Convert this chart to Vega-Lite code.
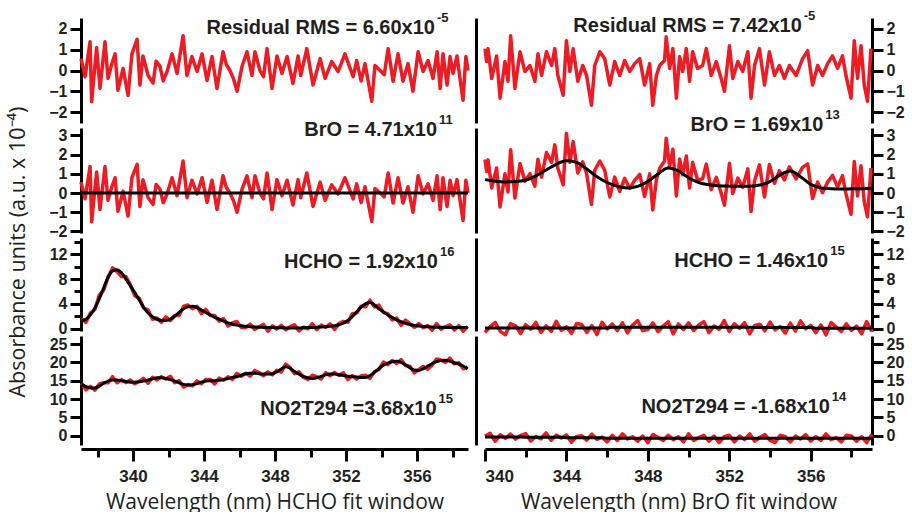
{
  "$schema": "https://vega.github.io/schema/vega-lite/v6.json",
  "background": "white",
  "padding": {"left": 8, "top": 10, "right": 2, "bottom": 0},
  "title": {"text": "Absorbance units (a.u. x 10⁻⁴)", "orient": "left", "anchor": "middle", "font": "Open Sans", "fontSize": 21.5, "fontWeight": "normal", "color": "#231f20", "offset": 19, "dx": 9},
  "spacing": 2,
  "config": {
    "view": {"stroke": null},
    "axis": {"domainColor": "black", "domainWidth": 3, "tickColor": "black", "tickWidth": 3, "labelColor": "#231f20", "labelFont": "Liberation Sans", "labelFontWeight": "bold", "labelFontSize": 16, "grid": false, "titleFont": "Open Sans", "titleFontWeight": "normal", "titleFontSize": 21, "titleColor": "#231f20", "labelPadding": 3}
  },
  "datasets": {
    "resL": [
      {"x":337.07,"r":0.57},{"x":337.3,"r":-0.3},{"x":337.58,"r":1.38},{"x":337.67,"r":-1.5},{"x":337.95,"r":1.1},{"x":338.14,"r":-0.86},{"x":338.42,"r":1.38},{"x":338.59,"r":-0.38},{"x":338.8,"r":0.3},{"x":338.99,"r":0.8},{"x":339.15,"r":-0.95},{"x":339.44,"r":0.1},{"x":339.72,"r":-1.2},{"x":339.94,"r":0.8},{"x":340.23,"r":1.5},{"x":340.39,"r":-0.7},{"x":340.56,"r":0.7},{"x":340.85,"r":-0.24},{"x":341.13,"r":-0.6},{"x":341.3,"r":0.45},{"x":341.52,"r":0.2},{"x":341.7,"r":-0.5},{"x":341.92,"r":-0.05},{"x":342.2,"r":0.8},{"x":342.48,"r":-0.14},{"x":342.82,"r":1.67},{"x":343.04,"r":-0.24},{"x":343.32,"r":0.67},{"x":343.61,"r":-0.05},{"x":343.89,"r":0.8},{"x":344.17,"r":-0.48},{"x":344.45,"r":0.67},{"x":344.73,"r":-0.86},{"x":345.07,"r":0.9},{"x":345.25,"r":0.3},{"x":345.46,"r":0.0},{"x":345.66,"r":-0.4},{"x":345.86,"r":-1.0},{"x":346.14,"r":0.19},{"x":346.42,"r":0.9},{"x":346.7,"r":-0.24},{"x":346.87,"r":0.9},{"x":347.15,"r":0.0},{"x":347.35,"r":-0.3},{"x":347.55,"r":1.05},{"x":347.83,"r":-0.86},{"x":348.11,"r":0.7},{"x":348.39,"r":-0.14},{"x":348.68,"r":0.67},{"x":349.01,"r":-0.62},{"x":349.3,"r":0.7},{"x":349.45,"r":-0.24},{"x":349.79,"r":1.05},{"x":350.14,"r":-0.7},{"x":350.54,"r":0.57},{"x":350.82,"r":-0.38},{"x":351.19,"r":0.43},{"x":351.55,"r":-0.05},{"x":351.94,"r":0.8},{"x":352.23,"r":0.1},{"x":352.4,"r":-0.3},{"x":352.6,"r":0.48},{"x":352.85,"r":-0.5},{"x":353.07,"r":0.33},{"x":353.45,"r":-1.48},{"x":353.63,"r":0.24},{"x":353.92,"r":0.0},{"x":354.15,"r":-0.2},{"x":354.37,"r":1.05},{"x":354.65,"r":-0.52},{"x":354.93,"r":0.8},{"x":355.21,"r":-0.52},{"x":355.49,"r":0.33},{"x":355.77,"r":-1.0},{"x":356.06,"r":0.9},{"x":356.34,"r":-0.05},{"x":356.62,"r":0.48},{"x":356.9,"r":-0.38},{"x":357.13,"r":0.9},{"x":357.3,"r":-0.86},{"x":357.46,"r":0.8},{"x":357.69,"r":-0.7},{"x":357.86,"r":0.67},{"x":358.03,"r":-0.14},{"x":358.25,"r":0.7},{"x":358.42,"r":-0.38},{"x":358.59,"r":-1.43},{"x":358.75,"r":0.67},{"x":358.87,"r":0.0}
    ],
    "zeroL": [{"x":337.07,"f":0},{"x":358.87,"f":0}],
    "resR": [
      {"x":340.0,"r":1.05,"b":1.75},{"x":340.08,"r":0.43,"b":1.12},{"x":340.15,"r":1.05,"b":1.73},{"x":340.33,"r":-0.38,"b":0.27},{"x":340.57,"r":0.7,"b":1.31},{"x":340.74,"r":-1.33,"b":-0.73},{"x":340.98,"r":0.43,"b":1.01},{"x":341.13,"r":-0.52,"b":0.06},{"x":341.26,"r":1.67,"b":2.26},{"x":341.47,"r":-0.86,"b":-0.26},{"x":341.72,"r":0.9,"b":1.54},{"x":341.96,"r":-0.05,"b":0.62},{"x":342.21,"r":0.24,"b":1.01},{"x":342.45,"r":-0.52,"b":0.36},{"x":342.6,"r":0.8,"b":1.76},{"x":342.78,"r":-0.24,"b":0.83},{"x":343.02,"r":0.9,"b":2.11},{"x":343.27,"r":0.24,"b":1.6},{"x":343.43,"r":1.05,"b":2.51},{"x":343.58,"r":-0.24,"b":1.29},{"x":343.84,"r":-1.19,"b":0.43},{"x":344.0,"r":1.43,"b":3.11},{"x":344.17,"r":-0.05,"b":1.6},{"x":344.33,"r":1.05,"b":2.68},{"x":344.56,"r":-0.52,"b":1.04},{"x":344.8,"r":0.24,"b":1.63},{"x":344.99,"r":-0.24,"b":1.02},{"x":345.23,"r":-1.67,"b":-0.6},{"x":345.39,"r":0.24,"b":1.18},{"x":345.64,"r":0.9,"b":1.67},{"x":345.88,"r":0.57,"b":1.19},{"x":346.13,"r":-0.7,"b":-0.2},{"x":346.37,"r":0.43,"b":0.83},{"x":346.62,"r":-0.24,"b":0.09},{"x":346.86,"r":0.48,"b":0.77},{"x":347.11,"r":-0.05,"b":0.24},{"x":347.35,"r":0.33,"b":0.66},{"x":347.6,"r":0.57,"b":0.97},{"x":347.84,"r":-0.7,"b":-0.18},{"x":348.09,"r":0.33,"b":1.0},{"x":348.24,"r":-1.67,"b":-0.88},{"x":348.42,"r":-0.24,"b":0.7},{"x":348.58,"r":0.24,"b":1.29},{"x":348.82,"r":0.48,"b":1.67},{"x":348.9,"r":1.62,"b":2.86},{"x":349.07,"r":0.1,"b":1.38},{"x":349.23,"r":1.05,"b":2.28},{"x":349.4,"r":-1.33,"b":-0.15},{"x":349.56,"r":0.67,"b":1.78},{"x":349.71,"r":-0.05,"b":0.95},{"x":349.89,"r":1.05,"b":1.93},{"x":350.05,"r":-0.52,"b":0.26},{"x":350.2,"r":0.9,"b":1.6},{"x":350.44,"r":0.1,"b":0.68},{"x":350.69,"r":0.24,"b":0.74},{"x":350.87,"r":1.05,"b":1.51},{"x":351.11,"r":-0.24,"b":0.18},{"x":351.36,"r":0.43,"b":0.82},{"x":351.6,"r":-0.38,"b":0.0},{"x":351.76,"r":-1.0,"b":-0.63},{"x":352.01,"r":1.19,"b":1.55},{"x":352.17,"r":-0.38,"b":-0.02},{"x":352.42,"r":0.43,"b":0.78},{"x":352.66,"r":-0.05,"b":0.3},{"x":352.91,"r":0.9,"b":1.26},{"x":353.07,"r":-1.33,"b":-0.96},{"x":353.24,"r":0.24,"b":0.63},{"x":353.48,"r":1.05,"b":1.47},{"x":353.73,"r":-0.7,"b":-0.2},{"x":353.97,"r":0.9,"b":1.49},{"x":354.22,"r":-0.24,"b":0.51},{"x":354.46,"r":0.24,"b":1.16},{"x":354.71,"r":-0.38,"b":0.69},{"x":354.95,"r":0.24,"b":1.37},{"x":355.28,"r":-0.24,"b":0.74},{"x":355.6,"r":0.57,"b":1.34},{"x":355.85,"r":0.95,"b":1.52},{"x":356.09,"r":-0.7,"b":-0.28},{"x":356.34,"r":0.24,"b":0.57},{"x":356.58,"r":-0.24,"b":0.02},{"x":356.83,"r":0.33,"b":0.57},{"x":357.07,"r":0.7,"b":0.92},{"x":357.32,"r":0.1,"b":0.31},{"x":357.56,"r":0.7,"b":0.91},{"x":357.73,"r":-0.24,"b":-0.03},{"x":357.98,"r":-1.33,"b":-1.11},{"x":358.14,"r":1.43,"b":1.65},{"x":358.3,"r":-0.38,"b":-0.15},{"x":358.47,"r":1.19,"b":1.42},{"x":358.63,"r":-0.7,"b":-0.46},{"x":358.79,"r":-1.48,"b":-1.24},{"x":358.96,"r":1.05,"b":1.3}
    ],
    "broRf": [
      {"x":340,"f":0.7},{"x":340.5,"f":0.62},{"x":341,"f":0.58},{"x":341.5,"f":0.6},{"x":342,"f":0.68},{"x":342.5,"f":0.9},{"x":343,"f":1.2},{"x":343.5,"f":1.5},{"x":344,"f":1.68},{"x":344.5,"f":1.6},{"x":345,"f":1.25},{"x":345.5,"f":0.85},{"x":346,"f":0.55},{"x":346.5,"f":0.35},{"x":347,"f":0.27},{"x":347.5,"f":0.35},{"x":348,"f":0.6},{"x":348.5,"f":1.0},{"x":349,"f":1.3},{"x":349.5,"f":1.15},{"x":350,"f":0.8},{"x":350.5,"f":0.55},{"x":351,"f":0.43},{"x":351.5,"f":0.38},{"x":352,"f":0.36},{"x":352.5,"f":0.35},{"x":353,"f":0.36},{"x":353.5,"f":0.42},{"x":354,"f":0.6},{"x":354.5,"f":0.95},{"x":355,"f":1.15},{"x":355.5,"f":0.85},{"x":356,"f":0.45},{"x":356.5,"f":0.27},{"x":357,"f":0.22},{"x":357.5,"f":0.21},{"x":358,"f":0.22},{"x":358.5,"f":0.23},{"x":359,"f":0.25}
    ],
    "L2": [
      {"x":337.1,"hm":1.6,"hf":1.2,"nm":14.3,"nf":14.0},{"x":337.35,"hm":1.0,"hf":1.5,"nm":12.5,"nf":13.4},{"x":337.6,"hm":2.5,"hf":2.2,"nm":13.45,"nf":13.0},{"x":337.85,"hm":3.1,"hf":3.3,"nm":12.4,"nf":13.0},{"x":338.1,"hm":5.4,"hf":4.8,"nm":14.1,"nf":13.5},{"x":338.35,"hm":6.2,"hf":6.6,"nm":14.45,"nf":14.3},{"x":338.6,"hm":8.4,"hf":8.3,"nm":14.45,"nf":14.9},{"x":338.85,"hm":9.8,"hf":9.3,"nm":16.1,"nf":15.2},{"x":339.1,"hm":9.2,"hf":9.5,"nm":14.45,"nf":15.2},{"x":339.35,"hm":8.4,"hf":9.0,"nm":15.3,"nf":15.0},
      {"x":339.6,"hm":8.4,"hf":8.0,"nm":14.5,"nf":14.8},{"x":339.85,"hm":7.1,"hf":6.9,"nm":15.2,"nf":14.6},{"x":340.1,"hm":5.3,"hf":5.8,"nm":14.15,"nf":14.6},{"x":340.35,"hm":4.9,"hf":4.6,"nm":14.85,"nf":14.7},{"x":340.6,"hm":3.3,"hf":3.4,"nm":15.65,"nf":14.9},{"x":340.85,"hm":3.0,"hf":2.5,"nm":14.3,"nf":15.2},{"x":341.1,"hm":1.5,"hf":1.9,"nm":15.95,"nf":15.5},{"x":341.35,"hm":1.7,"hf":1.5,"nm":15.2,"nf":15.8},{"x":341.6,"hm":1.0,"hf":1.3,"nm":16.1,"nf":15.8},{"x":341.85,"hm":1.9,"hf":1.3,"nm":15.45,"nf":15.6},
      {"x":342.1,"hm":1.3,"hf":1.5,"nm":16.2,"nf":15.3},{"x":342.35,"hm":2.1,"hf":2.0,"nm":14.45,"nf":14.9},{"x":342.6,"hm":2.1,"hf":2.6,"nm":15.0,"nf":14.4},{"x":342.85,"hm":3.6,"hf":3.2,"nm":13.25,"nf":14.0},{"x":343.1,"hm":3.8,"hf":3.5,"nm":13.95,"nf":13.8},{"x":343.35,"hm":3.2,"hf":3.6,"nm":13.6,"nf":13.9},{"x":343.6,"hm":3.6,"hf":3.4,"nm":14.95,"nf":14.2},{"x":343.85,"hm":2.4,"hf":3.0,"nm":14.15,"nf":14.6},{"x":344.1,"hm":3.1,"hf":2.6,"nm":15.35,"nf":14.9},{"x":344.35,"hm":2.1,"hf":2.2,"nm":15.3,"nf":15.0},
      {"x":344.6,"hm":2.1,"hf":1.8,"nm":14.1,"nf":15.0},{"x":344.85,"hm":1.2,"hf":1.5,"nm":15.7,"nf":15.1},{"x":345.1,"hm":1.6,"hf":1.2,"nm":15.15,"nf":15.3},{"x":345.35,"hm":0.4,"hf":0.9,"nm":16.05,"nf":15.6},{"x":345.6,"hm":0.9,"hf":0.7,"nm":15.3,"nf":15.9},{"x":345.85,"hm":1.15,"hf":0.55,"nm":17.0,"nf":16.1},{"x":346.1,"hm":0.15,"hf":0.45,"nm":16.2,"nf":16.5},{"x":346.35,"hm":0.15,"hf":0.35,"nm":17.05,"nf":16.9},{"x":346.6,"hm":0.7,"hf":0.3,"nm":16.25,"nf":17.0},{"x":346.85,"hm":-0.15,"hf":0.25,"nm":17.75,"nf":17.0},
      {"x":347.1,"hm":0.3,"hf":0.2,"nm":17.2,"nf":16.9},{"x":347.35,"hm":0.68,"hf":0.18,"nm":16.35,"nf":16.8},{"x":347.6,"hm":-0.45,"hf":0.15,"nm":17.4,"nf":16.8},{"x":347.85,"hm":0.45,"hf":0.15,"nm":16.6,"nf":16.9},{"x":348.1,"hm":-0.08,"hf":0.12,"nm":17.85,"nf":17.4},{"x":348.35,"hm":0.52,"hf":0.12,"nm":17.3,"nf":18.2},{"x":348.6,"hm":-0.2,"hf":0.1,"nm":19.55,"nf":18.8},{"x":348.85,"hm":0.3,"hf":0.1,"nm":18.55,"nf":18.4},{"x":349.1,"hm":0.6,"hf":0.1,"nm":16.9,"nf":17.5},{"x":349.35,"hm":-0.4,"hf":0.1,"nm":17.4,"nf":16.8},
      {"x":349.6,"hm":0.22,"hf":0.12,"nm":15.9,"nf":16.2},{"x":349.85,"hm":-0.05,"hf":0.15,"nm":15.35,"nf":15.8},{"x":350.1,"hm":0.78,"hf":0.18,"nm":16.5,"nf":15.6},{"x":350.35,"hm":-0.2,"hf":0.2,"nm":16.1,"nf":15.8},{"x":350.6,"hm":0.55,"hf":0.25,"nm":15.45,"nf":16.2},{"x":350.85,"hm":0.2,"hf":0.3,"nm":17.2,"nf":16.6},{"x":351.1,"hm":0.75,"hf":0.35,"nm":16.35,"nf":16.8},{"x":351.35,"hm":-0.15,"hf":0.45,"nm":17.25,"nf":16.8},{"x":351.6,"hm":0.8,"hf":0.6,"nm":16.45,"nf":16.6},{"x":351.85,"hm":1.15,"hf":0.85,"nm":17.15,"nf":16.4},
      {"x":352.1,"hm":1.0,"hf":1.3,"nm":15.3,"nf":16.2},{"x":352.35,"hm":2.4,"hf":1.9,"nm":16.4,"nf":16.1},{"x":352.6,"hm":2.5,"hf":2.7,"nm":15.4,"nf":16.0},{"x":352.85,"hm":3.6,"hf":3.5,"nm":16.35,"nf":15.9},{"x":353.1,"hm":3.5,"hf":4.0,"nm":16.5,"nf":15.9},{"x":353.35,"hm":4.6,"hf":4.2,"nm":15.65,"nf":16.4},{"x":353.6,"hm":3.5,"hf":3.8,"nm":17.45,"nf":17.3},{"x":353.85,"hm":3.8,"hf":3.2,"nm":18.0,"nf":18.3},{"x":354.1,"hm":2.6,"hf":2.7,"nm":20.1,"nf":19.2},{"x":354.35,"hm":2.4,"hf":2.2,"nm":19.35,"nf":19.8},
      {"x":354.6,"hm":1.4,"hf":1.8,"nm":20.5,"nf":20.2},{"x":354.85,"hm":1.7,"hf":1.4,"nm":19.7,"nf":20.3},{"x":355.1,"hm":0.5,"hf":1.1,"nm":20.75,"nf":20.0},{"x":355.35,"hm":1.35,"hf":0.85,"nm":19.15,"nf":19.3},{"x":355.6,"hm":0.75,"hf":0.65,"nm":18.95,"nf":18.5},{"x":355.85,"hm":0.2,"hf":0.5,"nm":17.15,"nf":17.9},{"x":356.1,"hm":0.8,"hf":0.4,"nm":18.1,"nf":17.8},{"x":356.35,"hm":0.12,"hf":0.32,"nm":18.9,"nf":18.3},{"x":356.6,"hm":0.47,"hf":0.27,"nm":18.1,"nf":19.0},{"x":356.85,"hm":-0.27,"hf":0.23,"nm":19.25,"nf":19.7},
      {"x":357.1,"hm":0.8,"hf":0.2,"nm":20.95,"nf":20.2},{"x":357.35,"hm":-0.1,"hf":0.2,"nm":20.65,"nf":20.5},{"x":357.6,"hm":0.28,"hf":0.18,"nm":20.0,"nf":20.6},{"x":357.85,"hm":0.58,"hf":0.18,"nm":21.2,"nf":20.3},{"x":358.1,"hm":-0.23,"hf":0.17,"nm":19.6,"nf":19.9},{"x":358.35,"hm":0.46,"hf":0.16,"nm":19.95,"nf":19.5},{"x":358.6,"hm":-0.45,"hf":0.15,"nm":18.25,"nf":19.0},{"x":358.85,"hm":0.35,"hf":0.15,"nm":18.8,"nf":18.2}
    ],
    "R2": [
      {"x":340,"hm":-0.64,"hf":0.08,"nm":-0.15,"nf":-0.35},{"x":340.25,"hm":0.26,"hf":0.08,"nm":0.65,"nf":-0.35},{"x":340.5,"hm":0.98,"hf":0.08,"nm":-1.55,"nf":-0.35},{"x":340.75,"hm":-0.46,"hf":0.08,"nm":0.25,"nf":-0.35},{"x":341,"hm":-1.0,"hf":0.08,"nm":-0.75,"nf":-0.35},{"x":341.25,"hm":0.8,"hf":0.08,"nm":0.45,"nf":-0.35},{"x":341.5,"hm":0.44,"hf":0.08,"nm":-0.95,"nf":-0.35},{"x":341.75,"hm":-0.82,"hf":0.08,"nm":0.05,"nf":-0.35},{"x":342,"hm":0.62,"hf":0.08,"nm":0.55,"nf":-0.45},{"x":342.25,"hm":-0.1,"hf":0.08,"nm":-1.45,"nf":-0.45},
      {"x":342.5,"hm":0.98,"hf":0.08,"nm":-0.25,"nf":-0.45},{"x":342.75,"hm":-0.64,"hf":0.08,"nm":-0.85,"nf":-0.45},{"x":343,"hm":0.44,"hf":0.08,"nm":0.75,"nf":-0.45},{"x":343.25,"hm":-0.46,"hf":0.08,"nm":-1.25,"nf":-0.45},{"x":343.5,"hm":1.16,"hf":0.08,"nm":0.15,"nf":-0.45},{"x":343.75,"hm":-0.28,"hf":0.08,"nm":-0.65,"nf":-0.45},{"x":344,"hm":0.26,"hf":0.08,"nm":0.2,"nf":-0.6},{"x":344.25,"hm":-0.8,"hf":0.1,"nm":-1.8,"nf":-0.6},{"x":344.5,"hm":0.82,"hf":0.1,"nm":-0.2,"nf":-0.6},{"x":344.75,"hm":0.64,"hf":0.1,"nm":0.0,"nf":-0.6},
      {"x":345,"hm":-0.62,"hf":0.1,"nm":-1.2,"nf":-0.6},{"x":345.25,"hm":0.46,"hf":0.1,"nm":0.4,"nf":-0.6},{"x":345.5,"hm":-0.98,"hf":0.1,"nm":-1.0,"nf":-0.6},{"x":345.75,"hm":1.0,"hf":0.1,"nm":-0.4,"nf":-0.6},{"x":346,"hm":-0.08,"hf":0.1,"nm":-1.7,"nf":-0.7},{"x":346.25,"hm":0.74,"hf":0.2,"nm":0.1,"nf":-0.7},{"x":346.5,"hm":-0.34,"hf":0.2,"nm":-1.3,"nf":-0.7},{"x":346.75,"hm":0.92,"hf":0.2,"nm":0.5,"nf":-0.7},{"x":347,"hm":-0.7,"hf":0.2,"nm":-0.9,"nf":-0.7},{"x":347.25,"hm":0.56,"hf":0.2,"nm":-0.3,"nf":-0.7},
      {"x":347.5,"hm":1.28,"hf":0.2,"nm":-1.5,"nf":-0.7},{"x":347.75,"hm":-0.34,"hf":0.2,"nm":-0.1,"nf":-0.7},{"x":348,"hm":-0.16,"hf":0.2,"nm":-1.9,"nf":-0.7},{"x":348.25,"hm":0.92,"hf":0.2,"nm":0.3,"nf":-0.7},{"x":348.5,"hm":-0.52,"hf":0.2,"nm":-0.5,"nf":-0.7},{"x":348.75,"hm":0.38,"hf":0.2,"nm":-1.3,"nf":-0.7},{"x":349,"hm":1.1,"hf":0.2,"nm":0.1,"nf":-0.7},{"x":349.25,"hm":-0.88,"hf":0.2,"nm":-1.1,"nf":-0.7},{"x":349.5,"hm":0.74,"hf":0.2,"nm":-0.3,"nf":-0.7},{"x":349.75,"hm":-0.16,"hf":0.2,"nm":-1.7,"nf":-0.7},
      {"x":350,"hm":0.92,"hf":0.2,"nm":0.5,"nf":-0.7},{"x":350.25,"hm":-0.32,"hf":0.22,"nm":-1.3,"nf":-0.7},{"x":350.5,"hm":0.58,"hf":0.22,"nm":-0.5,"nf":-0.7},{"x":350.75,"hm":1.12,"hf":0.22,"nm":0.1,"nf":-0.7},{"x":351,"hm":-0.68,"hf":0.22,"nm":-1.5,"nf":-0.7},{"x":351.25,"hm":0.4,"hf":0.22,"nm":-0.1,"nf":-0.7},{"x":351.5,"hm":-0.14,"hf":0.22,"nm":-1.9,"nf":-0.7},{"x":351.75,"hm":1.3,"hf":0.22,"nm":-0.3,"nf":-0.7},{"x":352,"hm":-0.5,"hf":0.22,"nm":0.1,"nf":-0.7},{"x":352.25,"hm":0.76,"hf":0.22,"nm":-1.7,"nf":-0.7},
      {"x":352.5,"hm":0.04,"hf":0.22,"nm":-0.1,"nf":-0.7},{"x":352.75,"hm":0.94,"hf":0.22,"nm":-1.1,"nf":-0.7},{"x":353,"hm":-0.86,"hf":0.22,"nm":0.5,"nf":-0.7},{"x":353.25,"hm":0.51,"hf":0.15,"nm":-1.5,"nf":-0.7},{"x":353.5,"hm":0.69,"hf":0.15,"nm":-0.5,"nf":-0.7},{"x":353.75,"hm":-0.39,"hf":0.15,"nm":0.3,"nf":-0.7},{"x":354,"hm":1.05,"hf":0.15,"nm":-1.3,"nf":-0.7},{"x":354.25,"hm":-0.21,"hf":0.15,"nm":-1.9,"nf":-0.7},{"x":354.5,"hm":0.33,"hf":0.15,"nm":0.1,"nf":-0.7},{"x":354.75,"hm":-0.75,"hf":0.15,"nm":-0.3,"nf":-0.7},
      {"x":355,"hm":0.87,"hf":0.15,"nm":-1.7,"nf":-0.7},{"x":355.25,"hm":-0.39,"hf":0.15,"nm":-0.1,"nf":-0.7},{"x":355.5,"hm":1.23,"hf":0.15,"nm":-0.9,"nf":-0.7},{"x":355.75,"hm":-0.03,"hf":0.15,"nm":0.3,"nf":-0.7},{"x":356,"hm":0.51,"hf":0.15,"nm":-1.5,"nf":-0.7},{"x":356.25,"hm":-0.67,"hf":0.05,"nm":-0.3,"nf":-0.7},{"x":356.5,"hm":0.59,"hf":0.05,"nm":-1.3,"nf":-0.7},{"x":356.75,"hm":-1.03,"hf":0.05,"nm":0.5,"nf":-0.7},{"x":357,"hm":0.95,"hf":0.05,"nm":-1.1,"nf":-0.7},{"x":357.25,"hm":0.23,"hf":0.05,"nm":-0.5,"nf":-0.7},
      {"x":357.5,"hm":-0.49,"hf":0.05,"nm":-1.7,"nf":-0.7},{"x":357.75,"hm":0.77,"hf":0.05,"nm":0.1,"nf":-0.7},{"x":358,"hm":-0.31,"hf":0.05,"nm":-0.1,"nf":-0.7},{"x":358.25,"hm":0.41,"hf":0.05,"nm":-1.5,"nf":-0.7},{"x":358.5,"hm":-0.85,"hf":0.05,"nm":-0.3,"nf":-0.7},{"x":358.75,"hm":1.13,"hf":0.05,"nm":-1.9,"nf":-0.7},{"x":359,"hm":-0.49,"hf":0.05,"nm":0.3,"nf":-0.7}
    ],
    "ann": [
      {"p":"resL","x":357.01,"y":1.76,"t":"Residual RMS = 6.60x10","s":"-5"},
      {"p":"broL","x":357.13,"y":2.96,"t":"BrO = 4.71x10","s":"11"},
      {"p":"hchoL","x":357.18,"y":9.73,"t":"HCHO = 1.92x10","s":"16"},
      {"p":"no2L","x":357.1,"y":5.68,"t":"NO2T294 =3.68x10","s":"15"},
      {"p":"resR","x":355.56,"y":1.84,"t":"Residual RMS = 7.42x10","s":"-5"},
      {"p":"broR","x":356.62,"y":3.22,"t":"BrO = 1.69x10","s":"13"},
      {"p":"hchoR","x":356.86,"y":10.0,"t":"HCHO = 1.46x10","s":"15"},
      {"p":"no2R","x":356.94,"y":6.13,"t":"NO2T294 = -1.68x10","s":"14"}
    ]
  },
  "hconcat": [
    {
      "bounds": "flush",
      "spacing": 5,
      "vconcat": [
        {
          "width": 387, "height": 105,
          "resolve": {"axis": {"x": "independent", "y": "independent"}},
          "layer": [
            {"data": {"name": "resL"}, "mark": {"type": "line", "color": "#ed1c24", "strokeWidth": 3.5, "strokeJoin": "round"},
             "encoding": {"x": {"field": "x", "type": "quantitative", "scale": {"domain": [337.07, 358.87], "nice": false, "zero": false}, "axis": null},
                          "y": {"field": "r", "type": "quantitative", "scale": {"domain": [-2.52, 2.52], "nice": false, "zero": false}, "axis": {"orient": "left", "values": [-2, -1, 0, 1, 2], "tickSize": 11, "title": null}}}},
            {"data": {"name": "ann"}, "transform": [{"filter": "datum.p == 'resL'"}], "mark": {"type": "text", "align": "right", "baseline": "alphabetic", "font": "Liberation Sans", "fontWeight": "bold", "fontSize": 20, "color": "#231f20"},
             "encoding": {"x": {"field": "x", "type": "quantitative", "axis": null}, "y": {"field": "y", "type": "quantitative", "axis": null}, "text": {"field": "t"}}},
            {"data": {"name": "ann"}, "transform": [{"filter": "datum.p == 'resL'"}], "mark": {"type": "text", "align": "left", "baseline": "alphabetic", "dx": 2, "dy": -12, "font": "Liberation Sans", "fontWeight": "bold", "fontSize": 13, "color": "#231f20"},
             "encoding": {"x": {"field": "x", "type": "quantitative", "axis": null}, "y": {"field": "y", "type": "quantitative", "axis": null}, "text": {"field": "s"}}}
          ]
        },
        {
          "width": 387, "height": 105,
          "resolve": {"axis": {"x": "independent", "y": "independent"}},
          "layer": [
            {"data": {"name": "resL"}, "mark": {"type": "line", "color": "#ed1c24", "strokeWidth": 3.5, "strokeJoin": "round"},
             "encoding": {"x": {"field": "x", "type": "quantitative", "scale": {"domain": [337.07, 358.87], "nice": false, "zero": false}, "axis": null},
                          "y": {"field": "r", "type": "quantitative", "scale": {"domain": [-2.08, 3.39], "nice": false, "zero": false}, "axis": {"orient": "left", "values": [-2, -1, 0, 1, 2, 3], "tickSize": 11, "title": null}}}},
            {"data": {"name": "zeroL"}, "mark": {"type": "line", "color": "black", "strokeWidth": 3},
             "encoding": {"x": {"field": "x", "type": "quantitative", "axis": null}, "y": {"field": "f", "type": "quantitative", "axis": null}}},
            {"data": {"name": "ann"}, "transform": [{"filter": "datum.p == 'broL'"}], "mark": {"type": "text", "align": "right", "baseline": "alphabetic", "font": "Liberation Sans", "fontWeight": "bold", "fontSize": 20, "color": "#231f20"},
             "encoding": {"x": {"field": "x", "type": "quantitative", "axis": null}, "y": {"field": "y", "type": "quantitative", "axis": null}, "text": {"field": "t"}}},
            {"data": {"name": "ann"}, "transform": [{"filter": "datum.p == 'broL'"}], "mark": {"type": "text", "align": "left", "baseline": "alphabetic", "dx": 2, "dy": -12, "font": "Liberation Sans", "fontWeight": "bold", "fontSize": 13, "color": "#231f20"},
             "encoding": {"x": {"field": "x", "type": "quantitative", "axis": null}, "y": {"field": "y", "type": "quantitative", "axis": null}, "text": {"field": "s"}}}
          ]
        },
        {
          "width": 387, "height": 93,
          "resolve": {"axis": {"x": "independent", "y": "independent"}},
          "layer": [
            {"data": {"name": "L2"}, "mark": {"type": "line", "color": "#ed1c24", "strokeWidth": 3.5, "strokeJoin": "round"},
             "encoding": {"x": {"field": "x", "type": "quantitative", "scale": {"domain": [337.07, 358.87], "nice": false, "zero": false}, "axis": null},
                          "y": {"field": "hm", "type": "quantitative", "scale": {"domain": [-0.4, 14.64], "nice": false, "zero": false}, "axis": {"orient": "left", "values": [0, 2, 4, 6, 8, 10, 12, 14], "labelExpr": "datum.value % 4 == 0 ? datum.label : ''", "tickSize": {"condition": {"test": "datum.value % 4 == 0", "value": 11}, "value": 7}, "title": null}}}},
            {"data": {"name": "L2"}, "mark": {"type": "line", "color": "black", "strokeWidth": 3, "interpolate": "monotone"},
             "encoding": {"x": {"field": "x", "type": "quantitative", "axis": null}, "y": {"field": "hf", "type": "quantitative", "axis": null}}},
            {"data": {"name": "ann"}, "transform": [{"filter": "datum.p == 'hchoL'"}], "mark": {"type": "text", "align": "right", "baseline": "alphabetic", "font": "Liberation Sans", "fontWeight": "bold", "fontSize": 20, "color": "#231f20"},
             "encoding": {"x": {"field": "x", "type": "quantitative", "axis": null}, "y": {"field": "y", "type": "quantitative", "axis": null}, "text": {"field": "t"}}},
            {"data": {"name": "ann"}, "transform": [{"filter": "datum.p == 'hchoL'"}], "mark": {"type": "text", "align": "left", "baseline": "alphabetic", "dx": 2, "dy": -12, "font": "Liberation Sans", "fontWeight": "bold", "fontSize": 13, "color": "#231f20"},
             "encoding": {"x": {"field": "x", "type": "quantitative", "axis": null}, "y": {"field": "y", "type": "quantitative", "axis": null}, "text": {"field": "s"}}}
          ]
        },
        {
          "width": 387, "height": 109,
          "resolve": {"axis": {"x": "independent", "y": "independent"}},
          "layer": [
            {"data": {"name": "L2"}, "mark": {"type": "line", "color": "#ed1c24", "strokeWidth": 3.5, "strokeJoin": "round"},
             "encoding": {"x": {"field": "x", "type": "quantitative", "scale": {"domain": [337.07, 358.87], "nice": false, "zero": false},
                                "axis": {"orient": "bottom", "values": [338, 340, 342, 344, 346, 348, 350, 352, 354, 356, 358], "labelExpr": "datum.value % 4 == 0 ? datum.label : ''", "tickSize": {"condition": {"test": "datum.value % 4 == 0", "value": 12}, "value": 8}, "offset": 4, "labelFontSize": 17, "labelPadding": 7, "title": "Wavelength (nm) HCHO fit window", "titlePadding": 7}},
                          "y": {"field": "nm", "type": "quantitative", "scale": {"domain": [-2.55, 27.2], "nice": false, "zero": false}, "axis": {"orient": "left", "values": [0, 5, 10, 15, 20, 25], "tickSize": 11, "title": null}}}},
            {"data": {"name": "L2"}, "mark": {"type": "line", "color": "black", "strokeWidth": 3, "interpolate": "monotone"},
             "encoding": {"x": {"field": "x", "type": "quantitative", "axis": null}, "y": {"field": "nf", "type": "quantitative", "axis": null}}},
            {"data": {"name": "ann"}, "transform": [{"filter": "datum.p == 'no2L'"}], "mark": {"type": "text", "align": "right", "baseline": "alphabetic", "font": "Liberation Sans", "fontWeight": "bold", "fontSize": 20, "color": "#231f20"},
             "encoding": {"x": {"field": "x", "type": "quantitative", "axis": null}, "y": {"field": "y", "type": "quantitative", "axis": null}, "text": {"field": "t"}}},
            {"data": {"name": "ann"}, "transform": [{"filter": "datum.p == 'no2L'"}], "mark": {"type": "text", "align": "left", "baseline": "alphabetic", "dx": 2, "dy": -12, "font": "Liberation Sans", "fontWeight": "bold", "fontSize": 13, "color": "#231f20"},
             "encoding": {"x": {"field": "x", "type": "quantitative", "axis": null}, "y": {"field": "y", "type": "quantitative", "axis": null}, "text": {"field": "s"}}}
          ]
        }
      ]
    },
    {
      "bounds": "flush",
      "spacing": 5,
      "vconcat": [
        {
          "width": 387, "height": 105,
          "resolve": {"axis": {"x": "independent", "y": "independent"}},
          "layer": [
            {"data": {"name": "resR"}, "mark": {"type": "line", "color": "#ed1c24", "strokeWidth": 3.5, "strokeJoin": "round"},
             "encoding": {"x": {"field": "x", "type": "quantitative", "scale": {"domain": [340, 359.01], "nice": false, "zero": false}, "axis": null},
                          "y": {"field": "r", "type": "quantitative", "scale": {"domain": [-2.52, 2.52], "nice": false, "zero": false}, "axis": {"orient": "right", "values": [-2, -1, 0, 1, 2], "tickSize": 11, "title": null}}}},
            {"data": {"name": "ann"}, "transform": [{"filter": "datum.p == 'resR'"}], "mark": {"type": "text", "align": "right", "baseline": "alphabetic", "font": "Liberation Sans", "fontWeight": "bold", "fontSize": 20, "color": "#231f20"},
             "encoding": {"x": {"field": "x", "type": "quantitative", "axis": null}, "y": {"field": "y", "type": "quantitative", "axis": {"orient": "left", "offset": 9, "ticks": false, "labels": false, "title": null}}, "text": {"field": "t"}}},
            {"data": {"name": "ann"}, "transform": [{"filter": "datum.p == 'resR'"}], "mark": {"type": "text", "align": "left", "baseline": "alphabetic", "dx": 2, "dy": -12, "font": "Liberation Sans", "fontWeight": "bold", "fontSize": 13, "color": "#231f20"},
             "encoding": {"x": {"field": "x", "type": "quantitative", "axis": null}, "y": {"field": "y", "type": "quantitative", "axis": null}, "text": {"field": "s"}}}
          ]
        },
        {
          "width": 387, "height": 105,
          "resolve": {"axis": {"x": "independent", "y": "independent"}},
          "layer": [
            {"data": {"name": "resR"}, "mark": {"type": "line", "color": "#ed1c24", "strokeWidth": 3.5, "strokeJoin": "round"},
             "encoding": {"x": {"field": "x", "type": "quantitative", "scale": {"domain": [340, 359.01], "nice": false, "zero": false}, "axis": null},
                          "y": {"field": "b", "type": "quantitative", "scale": {"domain": [-2.08, 3.39], "nice": false, "zero": false}, "axis": {"orient": "right", "values": [-2, -1, 0, 1, 2, 3], "tickSize": 11, "title": null}}}},
            {"data": {"name": "broRf"}, "mark": {"type": "line", "color": "black", "strokeWidth": 3, "interpolate": "monotone"},
             "encoding": {"x": {"field": "x", "type": "quantitative", "axis": null}, "y": {"field": "f", "type": "quantitative", "axis": {"orient": "left", "offset": 9, "ticks": false, "labels": false, "title": null}}}},
            {"data": {"name": "ann"}, "transform": [{"filter": "datum.p == 'broR'"}], "mark": {"type": "text", "align": "right", "baseline": "alphabetic", "font": "Liberation Sans", "fontWeight": "bold", "fontSize": 20, "color": "#231f20"},
             "encoding": {"x": {"field": "x", "type": "quantitative", "axis": null}, "y": {"field": "y", "type": "quantitative", "axis": null}, "text": {"field": "t"}}},
            {"data": {"name": "ann"}, "transform": [{"filter": "datum.p == 'broR'"}], "mark": {"type": "text", "align": "left", "baseline": "alphabetic", "dx": 2, "dy": -12, "font": "Liberation Sans", "fontWeight": "bold", "fontSize": 13, "color": "#231f20"},
             "encoding": {"x": {"field": "x", "type": "quantitative", "axis": null}, "y": {"field": "y", "type": "quantitative", "axis": null}, "text": {"field": "s"}}}
          ]
        },
        {
          "width": 387, "height": 93,
          "resolve": {"axis": {"x": "independent", "y": "independent"}},
          "layer": [
            {"data": {"name": "R2"}, "mark": {"type": "line", "color": "#ed1c24", "strokeWidth": 3.5, "strokeJoin": "round"},
             "encoding": {"x": {"field": "x", "type": "quantitative", "scale": {"domain": [340, 359.01], "nice": false, "zero": false}, "axis": null},
                          "y": {"field": "hm", "type": "quantitative", "scale": {"domain": [-0.4, 14.64], "nice": false, "zero": false}, "axis": {"orient": "right", "values": [0, 2, 4, 6, 8, 10, 12, 14], "labelExpr": "datum.value % 4 == 0 ? datum.label : ''", "tickSize": {"condition": {"test": "datum.value % 4 == 0", "value": 11}, "value": 7}, "title": null}}}},
            {"data": {"name": "R2"}, "mark": {"type": "line", "color": "black", "strokeWidth": 3},
             "encoding": {"x": {"field": "x", "type": "quantitative", "axis": null}, "y": {"field": "hf", "type": "quantitative", "axis": {"orient": "left", "offset": 9, "ticks": false, "labels": false, "title": null}}}},
            {"data": {"name": "ann"}, "transform": [{"filter": "datum.p == 'hchoR'"}], "mark": {"type": "text", "align": "right", "baseline": "alphabetic", "font": "Liberation Sans", "fontWeight": "bold", "fontSize": 20, "color": "#231f20"},
             "encoding": {"x": {"field": "x", "type": "quantitative", "axis": null}, "y": {"field": "y", "type": "quantitative", "axis": null}, "text": {"field": "t"}}},
            {"data": {"name": "ann"}, "transform": [{"filter": "datum.p == 'hchoR'"}], "mark": {"type": "text", "align": "left", "baseline": "alphabetic", "dx": 2, "dy": -12, "font": "Liberation Sans", "fontWeight": "bold", "fontSize": 13, "color": "#231f20"},
             "encoding": {"x": {"field": "x", "type": "quantitative", "axis": null}, "y": {"field": "y", "type": "quantitative", "axis": null}, "text": {"field": "s"}}}
          ]
        },
        {
          "width": 387, "height": 109,
          "resolve": {"axis": {"x": "independent", "y": "independent"}},
          "layer": [
            {"data": {"name": "R2"}, "mark": {"type": "line", "color": "#ed1c24", "strokeWidth": 3.5, "strokeJoin": "round"},
             "encoding": {"x": {"field": "x", "type": "quantitative", "scale": {"domain": [340, 359.01], "nice": false, "zero": false},
                                "axis": {"orient": "bottom", "values": [340, 342, 344, 346, 348, 350, 352, 354, 356, 358], "labelExpr": "datum.value % 4 == 0 ? datum.label : ''", "tickSize": {"condition": {"test": "datum.value % 4 == 0", "value": 12}, "value": 8}, "offset": 4, "labelFontSize": 17, "labelPadding": 7, "title": "Wavelength (nm) BrO fit window", "titlePadding": 7}},
                          "y": {"field": "nm", "type": "quantitative", "scale": {"domain": [-2.55, 27.2], "nice": false, "zero": false}, "axis": {"orient": "right", "values": [0, 5, 10, 15, 20, 25], "tickSize": 11, "title": null}}}},
            {"data": {"name": "R2"}, "mark": {"type": "line", "color": "black", "strokeWidth": 3},
             "encoding": {"x": {"field": "x", "type": "quantitative", "axis": null}, "y": {"field": "nf", "type": "quantitative", "axis": {"orient": "left", "offset": 9, "ticks": false, "labels": false, "title": null}}}},
            {"data": {"name": "ann"}, "transform": [{"filter": "datum.p == 'no2R'"}], "mark": {"type": "text", "align": "right", "baseline": "alphabetic", "font": "Liberation Sans", "fontWeight": "bold", "fontSize": 20, "color": "#231f20"},
             "encoding": {"x": {"field": "x", "type": "quantitative", "axis": null}, "y": {"field": "y", "type": "quantitative", "axis": null}, "text": {"field": "t"}}},
            {"data": {"name": "ann"}, "transform": [{"filter": "datum.p == 'no2R'"}], "mark": {"type": "text", "align": "left", "baseline": "alphabetic", "dx": 2, "dy": -12, "font": "Liberation Sans", "fontWeight": "bold", "fontSize": 13, "color": "#231f20"},
             "encoding": {"x": {"field": "x", "type": "quantitative", "axis": null}, "y": {"field": "y", "type": "quantitative", "axis": null}, "text": {"field": "s"}}}
          ]
        }
      ]
    }
  ]
}
